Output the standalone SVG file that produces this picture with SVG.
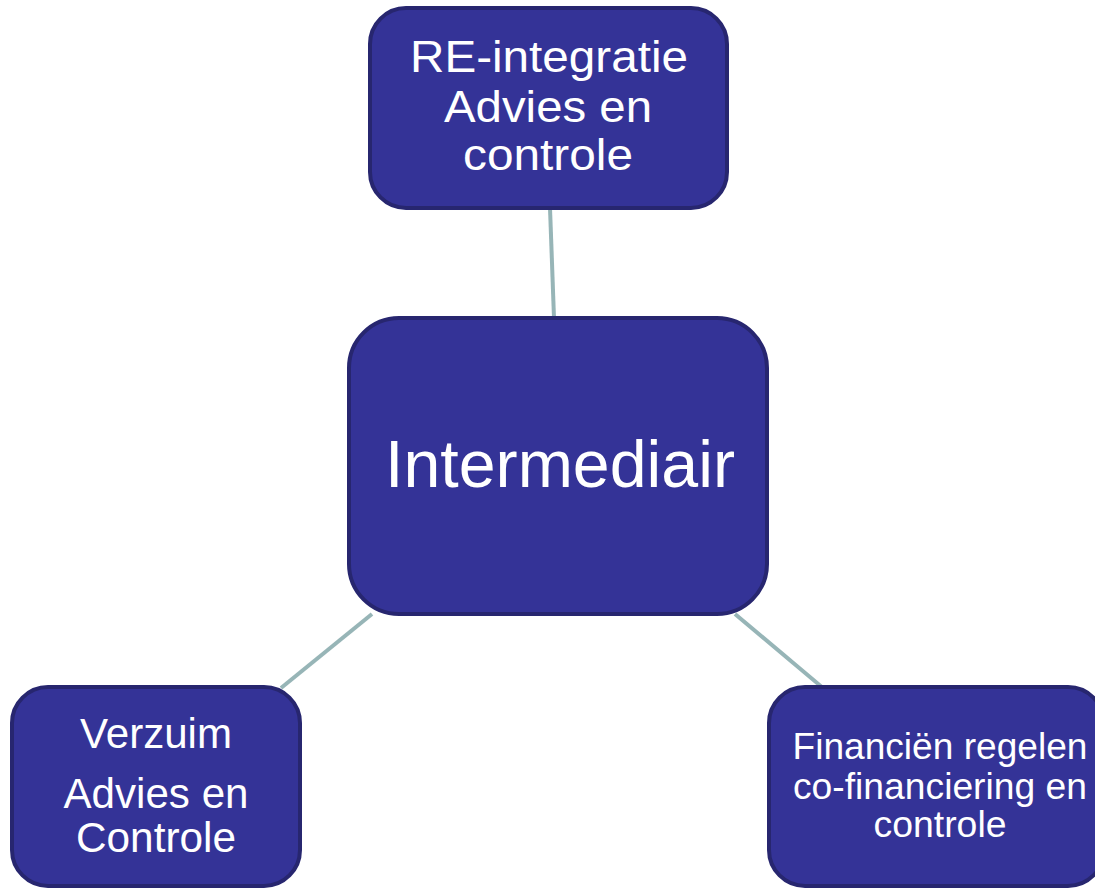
<svg xmlns="http://www.w3.org/2000/svg" width="1095" height="889" viewBox="0 0 1095 889">
<style>
.box{fill:#343397;stroke:#27266f;stroke-width:4}
.t{fill:#ffffff;font-family:"Liberation Sans",Arial,sans-serif;text-anchor:middle}
.c{stroke:#97b5b7;stroke-width:4;fill:none}
</style>
<rect width="1095" height="889" fill="#ffffff"/>
<g id="connectors">
<line class="c" x1="550" y1="208" x2="554" y2="318"/>
<line class="c" x1="372" y1="614" x2="281" y2="688"/>
<line class="c" x1="735" y1="614" x2="823" y2="688"/>
</g>
<g id="node-top">
<rect class="box" x="370" y="8" width="357" height="200" rx="36"/>
<text class="t" font-size="45" x="549" y="72" textLength="278" lengthAdjust="spacingAndGlyphs">RE-integratie</text>
<text class="t" font-size="45" x="548" y="122" textLength="208" lengthAdjust="spacingAndGlyphs">Advies en</text>
<text class="t" font-size="45" x="548" y="170" textLength="170" lengthAdjust="spacingAndGlyphs">controle</text>
</g>
<g id="node-center">
<rect class="box" x="349" y="318" width="418" height="296" rx="50"/>
<text class="t" font-size="67" x="560" y="487" textLength="350" lengthAdjust="spacingAndGlyphs">Intermediair</text>
</g>
<g id="node-left">
<rect class="box" x="12" y="687" width="288" height="199" rx="36"/>
<text class="t" font-size="42" x="156" y="748" textLength="152" lengthAdjust="spacingAndGlyphs">Verzuim</text>
<text class="t" font-size="42" x="156" y="808" textLength="185" lengthAdjust="spacingAndGlyphs">Advies en</text>
<text class="t" font-size="42" x="156" y="852" textLength="160" lengthAdjust="spacingAndGlyphs">Controle</text>
</g>
<g id="node-right">
<rect class="box" x="769" y="687" width="335" height="199" rx="36"/>
<text class="t" font-size="36" x="940" y="759" textLength="295" lengthAdjust="spacingAndGlyphs">Financiën regelen</text>
<text class="t" font-size="36" x="940" y="799" textLength="294" lengthAdjust="spacingAndGlyphs">co-financiering en</text>
<text class="t" font-size="36" x="940" y="837" textLength="133" lengthAdjust="spacingAndGlyphs">controle</text>
</g>
</svg>
